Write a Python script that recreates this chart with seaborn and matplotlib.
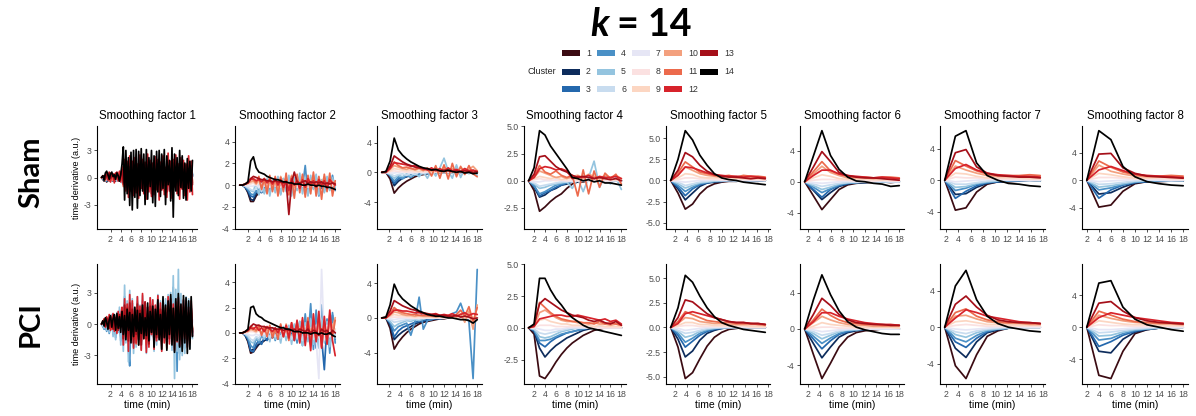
import numpy as np
import matplotlib
matplotlib.use("Agg")
import matplotlib.pyplot as plt
import seaborn as sns
import pandas as pd
from matplotlib.ticker import FormatStrFormatter
from matplotlib.patches import Rectangle

sns.set_theme(style="ticks")
plt.rcParams['font.family'] = ['Liberation Sans', 'DejaVu Sans']
plt.rcParams['axes.unicode_minus'] = False

# ---------------- data ----------------
clusters = list(range(1, 15))
cluster_colors = ["#3b0b12", "#0d2c5c", "#2468ad", "#4a90c6", "#94c4df", "#c8dcef", "#e6e6f5",
                  "#fbe1e1", "#fcd6c2", "#f3a07e", "#ec6a4c", "#d7232b", "#a50f19", "#000000"]
smoothing_factors = [1, 2, 3, 4, 5, 6, 7, 8]
conditions = ["Sham", "PCI"]
frame_minutes = 0.25   # raw sampling interval; factor k -> k * 0.25 min per point
x_breaks = [2, 4, 6, 8, 10, 12, 14, 16, 18]
y_breaks = {1: [-3, 0, 3], 2: [-4, -2, 0, 2, 4], 3: [-4, 0, 4], 4: [-2.5, 0, 2.5, 5.0],
            5: [-5.0, -2.5, 0, 2.5, 5.0], 6: [-4, 0, 4], 7: [-4, 0, 4], 8: [-4, 0, 4]}

# rows: cluster 1 ... cluster 14
sham_sf1 = [
 [0,-0.2,-0.4,-0.1,-0.5,-0.3,-0.2,-0.4,0.0,-0.3,-0.1,-0.4,0.0,-0.2,-0.3,-0.1,-0.4,0.4,-0.7,0.3,-0.6,0.6,-0.5,0.2,-0.7,0.6,-0.3,0.5,-0.6,0.2,-0.5,0.7,-0.5,0.3,-0.6,0.4,-0.4,0.6,-0.7,0.3,-0.5,0.4,-0.4,0.5,-0.6,0.2,-0.4,0.7,-0.3,0.4,-0.5,0.5,-0.7,0.4,-0.2,0.5,-0.6,0.5,-0.3,0.3,-0.6,0.4,-0.4,0.5,-0.4,0.2,-0.5,0.4,-0.2,0.6,-0.4,0.3],
 [0,-0.1,-0.3,-0.2,-0.4,-0.1,-0.3,0.0,-0.2,-0.4,0.1,-0.2,-0.3,0.0,-0.1,-0.2,-0.3,0.5,-0.6,0.2,-0.5,0.7,-0.4,0.3,-0.8,0.5,-0.2,0.6,-0.5,0.1,-0.4,0.8,-0.6,0.4,-0.5,0.5,-0.3,0.7,-0.8,0.2,-0.4,0.5,-0.3,0.4,-0.7,0.3,-0.5,0.8,-0.2,0.5,-0.6,0.4,-0.8,0.5,-0.3,0.4,-0.5,0.6,-0.4,0.2,-0.7,0.5,-0.3,0.6,-0.5,0.3,-0.4,0.5,-0.3,0.7,-0.5,0.2],
 [0,-0.2,-0.1,-0.3,0.0,-0.2,-0.4,0.1,-0.3,-0.1,0.0,-0.3,-0.2,0.1,-0.4,0.0,-0.4,0.6,-0.8,0.3,-0.7,0.9,-0.5,0.4,-1.0,0.7,-0.3,0.8,-0.7,0.2,-0.6,1.0,-0.8,0.5,-0.7,0.7,-0.4,0.9,-1.0,0.3,-0.6,0.7,-0.5,0.6,-0.9,0.4,-0.7,1.0,-0.3,0.7,-0.8,0.6,-1.0,0.7,-0.4,0.6,-0.7,0.8,-0.6,0.3,-0.9,0.7,-0.5,0.8,-0.7,0.4,-0.6,0.7,-0.5,0.9,-0.7,0.3],
 [0,-0.1,-0.3,0.0,-0.4,-0.1,0.1,-0.3,-0.2,0.1,-0.4,-0.1,-0.2,0.2,-0.3,-0.1,-0.5,0.7,-1.0,0.4,-0.9,1.1,-0.6,0.5,-1.2,0.8,-0.4,1.0,-0.9,0.3,-0.7,1.2,-1.0,0.6,-0.8,0.9,-0.5,1.1,-1.2,0.4,-0.7,0.9,-0.6,0.7,-1.1,0.5,-0.9,1.2,-0.4,0.9,-1.0,0.7,-1.2,0.9,-0.5,0.7,-0.9,1.0,-0.7,0.4,-1.1,0.9,-0.6,1.0,-0.9,0.5,-0.7,0.9,-0.6,1.1,-0.9,0.4],
 [0,-0.1,-0.2,0.1,-0.3,-0.2,0.2,-0.4,-0.1,0.2,-0.3,0.0,-0.4,0.1,-0.2,-0.3,-0.6,0.8,-1.1,0.5,-1.0,1.2,-0.7,0.6,-1.3,0.9,-0.5,1.1,-1.0,0.4,-0.8,1.3,-1.1,0.7,-0.9,1.0,-0.6,1.2,-1.3,0.5,-0.8,1.0,-0.7,0.8,-1.2,0.6,-1.0,1.3,-0.5,1.0,-2.2,0.8,-1.3,1.0,-0.6,0.8,-1.0,1.1,-0.8,0.5,-1.2,1.0,-0.7,1.1,-1.0,0.6,-0.8,1.0,-0.7,1.2,-1.0,0.5],
 [0,-0.1,0.0,-0.2,-0.1,0.1,-0.2,0.0,-0.3,0.2,-0.1,-0.2,0.1,-0.3,0.0,-0.1,-0.4,0.5,-0.7,0.3,-0.6,0.7,-0.5,0.4,-0.8,0.6,-0.3,0.7,-0.6,0.2,-0.5,0.8,-0.7,0.4,-0.6,0.6,-0.4,0.7,-0.8,0.3,-0.5,0.6,-0.4,0.5,-0.7,0.4,-0.6,0.8,-0.3,0.6,-0.7,0.5,-0.8,0.6,-0.4,0.5,-0.6,0.7,-0.5,0.3,-0.7,0.6,-0.4,0.7,-0.6,0.4,-0.5,0.6,-0.4,0.7,-0.6,0.3],
 [0,0.0,-0.1,0.0,-0.1,0.1,0.0,-0.1,0.1,0.0,-0.1,0.0,0.1,-0.1,0.0,0.1,-0.3,0.3,-0.4,0.2,-0.5,0.4,-0.3,0.3,-0.5,0.4,-0.2,0.5,-0.4,0.2,-0.3,0.4,-0.5,0.3,-0.4,0.4,-0.3,0.5,-0.4,0.2,-0.3,0.4,-0.5,0.3,-0.4,0.3,-0.3,0.5,-0.2,0.4,-0.5,0.3,-0.4,0.4,-0.3,0.3,-0.4,0.5,-0.3,0.2,-0.5,0.4,-0.3,0.4,-0.4,0.3,-0.3,0.4,-0.2,0.5,-0.4,0.2],
 [0,0.0,0.1,0.1,0.0,0.1,-0.1,0.1,0.0,0.2,-0.1,0.1,0.0,0.1,-0.1,0.0,0.3,-0.3,0.4,-0.2,0.5,-0.4,0.3,-0.3,0.5,-0.4,0.2,-0.5,0.4,-0.2,0.3,-0.4,0.5,-0.3,0.4,-0.4,0.3,-0.5,0.4,-0.2,0.3,-0.4,0.5,-0.3,0.4,-0.3,0.3,-0.5,0.2,-0.4,0.5,-0.3,0.4,-0.4,0.3,-0.3,0.4,-0.5,0.3,-0.2,0.5,-0.4,0.3,-0.4,0.4,-0.3,0.3,-0.4,0.2,-0.5,0.4,-0.2],
 [0,0.1,0.0,0.2,0.1,-0.1,0.2,0.0,0.3,-0.2,0.1,0.2,-0.1,0.3,0.0,0.1,0.4,-0.5,0.7,-0.3,0.6,-0.7,0.5,-0.4,0.8,-0.6,0.3,-0.7,0.6,-0.2,0.5,-0.8,0.7,-0.4,0.6,-0.6,0.4,-0.7,0.8,-0.3,0.5,-0.6,0.4,-0.5,0.7,-0.4,0.6,-0.8,0.3,-0.6,0.7,-0.5,0.8,-0.6,0.4,-0.5,0.6,-0.7,0.5,-0.3,0.7,-0.6,0.4,-0.7,0.6,-0.4,0.5,-0.6,0.4,-0.7,0.6,-0.3],
 [0,0.1,0.2,0.0,0.3,-0.2,0.4,0.1,-0.3,0.3,0.2,-0.1,0.4,0.0,0.2,-0.2,0.6,-0.8,1.0,-0.5,0.9,-1.1,0.7,-0.6,1.2,-0.9,0.5,-1.0,1.1,-0.4,0.8,-1.2,0.9,-0.7,1.0,-0.9,0.6,-1.1,1.2,-0.5,0.8,-1.0,0.7,-0.8,1.1,-0.6,0.9,-1.2,0.5,-0.9,1.0,-0.7,1.2,-1.0,0.6,-0.8,0.9,-1.1,0.8,-0.5,1.0,-0.9,0.7,-1.0,1.1,-0.6,0.8,-0.9,0.6,-1.0,0.9,-0.4],
 [0,0.2,0.1,-0.3,0.4,0.2,-0.4,0.5,0.1,-0.3,0.4,0.2,-0.2,0.5,0.1,-0.3,0.8,-1.0,1.2,-0.6,1.4,-1.2,0.9,-1.5,1.1,-0.7,1.5,-1.0,0.6,-1.3,1.3,-0.9,1.0,-1.4,1.4,-0.5,0.9,-1.1,1.5,-1.3,0.7,-1.0,1.2,-1.4,1.0,-0.8,1.3,-1.2,0.8,-1.5,1.1,-0.6,1.4,-1.0,0.9,-1.3,1.2,-0.7,1.0,-1.1,1.5,-0.9,0.6,-1.2,1.1,-0.8,1.3,-1.0,0.7,-1.3,1.0,-0.6],
 [0,0.1,-0.2,0.3,0.5,-0.3,0.6,-0.5,0.4,0.2,-0.6,0.5,0.3,-0.4,0.7,-0.5,1.2,-0.8,2.0,-1.5,1.8,-2.2,2.4,-1.0,1.6,-2.0,2.2,-1.4,1.0,-2.3,2.5,-1.2,2.0,-1.8,1.4,-2.4,2.6,-1.6,1.9,-2.1,1.2,-1.9,2.3,-1.1,2.0,-2.5,1.7,-1.3,2.4,-1.9,1.1,-2.2,2.7,-1.5,1.8,-2.3,2.0,-1.0,2.5,-1.8,1.5,-2.4,2.2,-1.2,1.9,-2.0,1.3,-2.5,2.4,-1.6,1.8,-1.9],
 [0,0.1,0.2,-0.2,0.4,0.3,0.5,-0.1,0.3,0.4,-0.2,0.3,0.6,0.1,-0.3,0.4,0.9,-0.6,1.4,-1.1,1.6,-0.8,1.2,-1.5,1.8,-0.9,1.1,-1.7,1.5,-0.6,1.3,-1.2,0.8,-1.6,1.7,-1.0,1.4,-0.7,1.0,-1.8,1.6,-1.1,0.9,-1.3,1.5,-0.8,1.2,-1.4,1.7,-0.9,1.1,-1.6,1.3,-0.5,1.0,-1.2,1.6,-1.0,0.8,-1.5,1.4,-0.9,1.2,-1.3,0.9,-1.1,1.5,-0.7,1.0,-1.2,1.3,-0.8],
 [0,0.2,-0.3,0.5,0.7,0.3,-0.2,0.4,0.6,0.1,0.3,-0.2,0.5,0.2,-0.4,0.3,1.5,3.4,-2.5,3.0,-1.8,2.2,-3.1,2.8,-3.6,3.0,-2.2,3.1,-3.4,2.9,-2.0,3.2,-1.5,2.6,-3.0,3.1,-2.4,2.2,-1.0,3.0,-2.8,2.4,-3.2,2.9,-1.6,3.0,-2.1,2.6,-1.2,3.1,-3.0,2.4,-0.8,1.9,-2.6,3.3,-4.4,2.6,-1.5,2.2,-2.0,3.0,-1.1,2.4,-2.3,1.6,-2.5,2.1,-1.2,1.8,-1.5,1.9],
]
pci_sf1 = [
 [0,-0.2,-0.3,-0.1,-0.4,0.1,-0.5,-0.2,0.2,-0.5,0.1,-0.6,0.3,-0.3,0.4,-0.7,0.4,-0.9,1.1,-0.6,0.8,-1.1,0.9,-0.5,0.9,-1.0,0.5,-0.8,0.9,-0.5,0.7,-0.9,1.0,-0.5,0.8,-1.1,0.5,-0.7,0.9,-0.4,0.8,-1.0,0.6,-0.8,1.1,-0.6,0.8,-1.0,0.7,-0.6,0.9,-0.8,1.1,-0.7,1.2,-1.1,1.2,-1.2,1.1,-1.2,1.2,-1.3,1.0,-1.1,0.8,-1.0,0.9,-0.8,0.9,-0.8,0.7,-0.5],
 [0,-0.1,-0.3,0.0,-0.5,0.2,-0.6,-0.1,0.3,-0.6,0.2,-0.8,0.5,-0.4,0.6,-0.9,0.6,-1.2,1.5,-0.8,1.0,-1.4,1.2,-0.6,1.2,-1.3,0.6,-1.0,1.2,-0.7,0.9,-1.2,1.3,-0.6,1.0,-1.4,0.7,-0.9,1.2,-0.5,1.1,-1.3,0.8,-1.0,1.4,-0.8,1.0,-1.3,0.9,-0.8,1.2,-1.1,1.4,-0.9,1.5,-1.4,1.6,-1.5,1.4,-1.6,1.5,-1.7,1.3,-1.4,1.0,-1.3,1.2,-1.0,1.2,-1.1,0.9,-0.7],
 [0,-0.2,-0.4,0.1,-0.6,0.3,-0.7,-0.2,0.5,-0.8,0.4,-1.0,0.7,-0.5,0.9,-1.2,0.9,-1.6,2.0,-1.1,1.4,-1.9,1.7,-0.8,1.6,-1.7,0.9,-1.4,1.6,-0.9,1.2,-1.6,1.7,-0.8,1.3,-1.8,1.0,-1.2,1.6,-0.7,1.5,-1.7,1.1,-1.3,1.8,-1.0,1.4,-1.7,1.2,-1.0,1.6,-1.4,1.8,-1.1,2.0,-1.8,2.2,-2.0,1.9,-2.2,2.1,-2.3,1.7,-1.9,1.4,-1.8,1.7,-1.3,1.6,-1.5,1.2,-0.9],
 [0,-0.2,-0.5,0.2,-0.7,0.4,-0.9,-0.2,0.7,-1.0,0.5,-1.3,0.9,-0.6,1.2,-1.6,1.1,-2.0,2.6,-1.4,1.8,-2.4,-4.0,1.0,2.0,-2.2,1.2,-1.8,2.1,-1.1,1.5,-2.0,2.2,-1.0,1.6,-2.3,1.3,-1.5,2.0,-0.9,1.9,-2.1,1.4,-1.6,2.3,-1.2,1.8,-2.1,1.5,-1.3,2.0,-1.7,2.3,-1.4,2.6,-2.2,3.5,-2.6,2.4,-4.5,2.7,-2.8,2.2,-2.4,1.8,-2.3,2.1,-1.6,2.0,-1.9,1.5,-1.1],
 [0,-0.2,-0.4,0.3,-0.6,0.5,-0.8,-0.3,0.9,-1.2,0.6,-1.5,1.1,-0.8,1.6,-2.0,1.4,-2.6,3.7,-1.8,2.2,-3.6,3.2,-1.2,2.4,-2.8,1.5,-2.2,2.6,-1.4,1.8,-2.4,2.7,-1.3,2.0,-2.8,1.6,-1.9,2.5,-1.1,2.3,-2.6,1.7,-2.0,2.8,-1.5,2.2,-2.5,1.9,-1.6,2.4,-2.0,2.8,-1.7,3.0,-2.5,4.6,-5.2,3.3,-2.6,5.2,-3.4,2.9,-3.0,2.2,-2.8,2.6,-1.9,2.4,-2.3,1.8,-1.4],
 [0,-0.1,-0.2,0.1,-0.3,0.0,0.2,-0.3,0.1,-0.2,0.3,-0.1,-0.3,0.2,-0.2,0.1,-0.8,1.0,-1.3,0.6,-1.1,1.4,-1.5,0.7,-1.2,1.1,-0.6,1.5,-1.3,0.8,-1.0,1.2,-1.4,0.6,-1.1,1.5,-0.9,1.2,-1.5,0.4,-1.2,1.4,-0.8,1.0,-1.5,1.0,-1.1,1.4,-1.2,0.8,-1.3,1.2,-0.9,0.6,-1.4,1.3,-1.0,1.0,-1.2,0.6,-1.5,1.2,-0.8,1.0,-1.3,0.8,-1.0,1.2,-0.7,1.0,-1.2,0.4],
 [0,0.0,-0.1,0.1,-0.2,0.0,0.1,-0.2,0.0,-0.1,0.2,-0.1,-0.2,0.1,-0.1,0.1,-0.4,0.5,-0.7,0.3,-0.6,0.7,-0.8,0.4,-0.6,0.6,-0.3,0.8,-0.7,0.4,-0.5,0.6,-0.7,0.3,-0.6,0.8,-0.5,0.6,-0.8,0.2,-0.6,0.7,-0.4,0.5,-0.8,0.5,-0.6,0.7,-0.6,0.4,-0.7,0.6,-0.5,0.3,-0.7,0.7,-0.5,0.5,-0.6,0.3,-0.8,0.6,-0.4,0.5,-0.7,0.4,-0.5,0.6,-0.3,0.5,-0.6,0.2],
 [0,0.0,0.1,-0.1,0.2,0.0,-0.1,0.2,0.0,0.1,-0.2,0.1,0.2,-0.1,0.1,-0.1,0.3,-0.5,0.6,-0.3,0.5,-0.6,0.7,-0.3,0.5,-0.5,0.3,-0.7,0.6,-0.4,0.4,-0.5,0.6,-0.3,0.5,-0.7,0.4,-0.5,0.7,-0.2,0.5,-0.6,0.3,-0.5,0.7,-0.5,0.5,-0.6,0.5,-0.4,0.6,-0.5,0.4,-0.3,0.6,-0.6,0.5,-0.5,0.5,-0.3,0.7,-0.5,0.3,-0.5,0.6,-0.4,0.5,-0.5,0.3,-0.5,0.5,-0.2],
 [0,0.1,0.2,-0.1,0.3,0.0,-0.2,0.3,-0.1,0.2,-0.3,0.1,0.3,-0.1,0.2,-0.2,0.5,-0.7,0.9,-0.4,0.7,-0.9,1.0,-0.5,0.8,-0.7,0.5,-1.0,0.9,-0.6,0.6,-0.8,0.9,-0.5,0.7,-1.0,0.6,-0.8,1.0,-0.3,0.8,-0.9,0.5,-0.7,1.0,-0.7,0.7,-0.9,0.8,-0.6,0.9,-0.8,0.6,-0.5,0.9,-0.9,0.7,-0.7,0.8,-0.5,1.0,-0.8,0.5,-0.7,0.9,-0.6,0.7,-0.8,0.5,-0.7,0.8,-0.3],
 [0,0.1,0.3,-0.2,0.4,0.1,-0.3,0.5,-0.1,0.3,-0.4,0.2,0.5,-0.2,0.3,-0.3,0.8,-1.0,1.3,-0.6,1.0,-1.4,1.5,-0.8,1.2,-1.1,0.7,-1.5,1.3,-0.9,0.9,-1.2,1.4,-0.7,1.1,-1.5,0.9,-1.2,1.5,-0.5,1.2,-1.4,0.8,-1.0,1.5,-1.1,1.0,-1.4,1.2,-0.9,1.3,-1.2,0.9,-0.8,1.4,-1.3,1.1,-1.0,1.2,-0.7,1.5,-1.2,0.8,-1.1,1.3,-0.9,1.0,-1.2,0.8,-1.1,1.2,-0.5],
 [0,0.3,-0.1,0.5,0.2,-0.4,0.6,0.0,-0.5,0.7,0.1,-0.3,0.6,-0.5,0.4,0.2,1.0,-1.3,1.6,-0.8,1.2,-1.7,1.9,-1.0,1.5,-1.4,0.9,-1.9,1.7,-1.2,1.1,-1.6,1.8,-0.9,1.4,-2.0,1.2,-1.5,1.9,-0.7,1.6,-1.8,1.0,-1.2,2.0,-1.4,1.3,-1.9,1.5,-1.1,1.7,-1.6,1.2,-1.0,1.8,-1.7,1.4,-1.3,1.6,-0.9,1.9,-1.5,1.1,-1.4,1.7,-1.2,1.3,-1.6,1.0,-1.4,1.5,-0.6],
 [0,0.1,0.5,-0.3,0.7,-0.2,0.9,-0.6,0.4,1.0,-0.7,0.6,-0.9,1.2,-0.4,0.8,1.6,-2.0,2.4,-1.2,1.9,-2.6,2.8,-1.5,2.2,-2.3,1.4,-1.8,2.6,-2.0,1.7,-2.5,2.9,-1.4,2.1,-2.7,1.6,-2.2,2.5,-1.0,2.3,-2.4,1.8,-1.6,2.7,-1.3,2.0,-2.6,2.2,-1.8,1.5,-2.3,2.6,-1.9,2.4,-1.2,1.9,-2.5,2.1,-1.7,2.5,-2.1,1.8,-1.9,2.3,-1.4,2.0,-2.2,1.6,-1.8,2.2,-1.1],
 [0,0.2,0.4,-0.2,0.6,0.3,-0.4,0.7,0.1,-0.5,0.8,-0.2,0.6,-0.6,0.9,-0.3,1.2,-1.4,1.8,-0.9,1.5,-1.6,2.0,-1.2,1.4,-1.8,1.1,-1.0,1.9,-1.5,1.3,-2.0,1.6,-1.1,2.1,-1.4,1.0,-1.9,1.7,-0.8,1.5,-1.6,1.2,-1.3,1.8,-1.0,1.4,-1.7,2.0,-1.2,1.1,-1.8,1.6,-1.4,1.9,-0.9,1.3,-1.6,1.5,-1.1,1.7,-1.5,1.2,-1.3,1.6,-1.0,1.4,-1.5,1.1,-1.2,1.5,-0.8],
 [0,0.3,-0.2,0.6,0.2,-0.5,0.4,0.8,-0.3,0.5,0.9,-0.6,1.0,-0.4,0.7,-0.8,1.2,-1.0,0.8,-1.5,1.4,-0.6,1.1,-1.8,0.9,-1.2,1.6,-0.7,1.3,-2.0,1.0,-0.9,1.8,-1.4,0.6,-1.1,2.0,-1.6,1.2,-0.8,1.7,-2.2,1.4,-1.0,2.3,-1.5,0.9,-2.4,2.6,-1.3,1.8,-2.5,2.2,-1.0,2.8,-2.0,1.5,-2.7,2.4,-1.6,2.9,-2.2,1.9,-2.6,2.7,-1.8,2.5,-2.8,2.2,-2.4,2.6,-1.2],
]

sham_sf2 = [
 [0,0,-0.2,-0.7,-1.5,-1.5,-1.0,-0.7,-0.6,-0.5,-0.4,-0.3,-0.3,-0.2,-0.2,-0.1,-0.1,-0.1,0.0,-0.1,0.0,0.0,0.0,0.0,0.0,0.0,0.0,0.0,0.0,0.0,0.0,0.0,0.0,0.0,0.0,0.0],
 [0,0,-0.2,-0.6,-1.3,-1.4,-0.8,-0.6,-0.5,-0.4,-0.3,-0.3,-0.2,-0.2,-0.1,-0.2,-0.1,0.0,-0.1,0.0,-0.1,0.0,0.0,0.1,0.0,0.0,-0.1,0.0,0.0,0.0,0.0,0.0,0.0,0.0,0.0,0.0],
 [0,0,-0.2,-0.5,-1.0,-1.1,-0.6,-0.4,-0.7,-0.2,-0.5,0.3,-0.4,0.2,-0.3,0.4,-0.2,0.3,-0.4,0.2,-0.3,0.4,-0.2,0.3,-0.3,0.2,-0.4,0.3,-0.2,0.1,-0.3,0.2,-0.1,0.2,-0.2,0.0],
 [0,0,-0.1,-0.4,-0.8,-0.9,-0.5,-0.8,-0.3,-0.7,0.2,-0.6,0.4,-0.5,0.3,-0.8,0.6,-0.4,0.2,-0.6,0.5,-0.3,0.8,-0.2,1.8,-0.9,0.5,-0.3,0.7,-1.0,0.4,-0.6,0.6,-0.4,0.9,-0.5],
 [0,0,-0.1,-0.3,-0.5,-0.6,0.3,-0.9,0.5,-0.8,0.6,-1.0,0.4,-0.7,0.8,-0.9,0.6,-0.6,0.9,-1.0,0.7,-0.5,1.1,-0.8,0.6,-1.0,0.9,-0.4,1.0,-0.9,0.5,-0.7,0.8,-0.5,0.7,-0.2],
 [0,0,-0.1,-0.2,-0.4,-0.5,-0.3,0.2,-0.6,0.3,-0.5,0.4,-0.3,0.2,-0.4,0.3,-0.2,0.4,-0.3,0.2,-0.4,0.3,-0.2,0.4,-0.3,0.2,-0.2,0.3,-0.3,0.2,-0.1,0.3,-0.2,0.1,-0.1,0.0],
 [0,0,0.0,-0.1,-0.1,-0.1,0.1,-0.2,0.1,-0.1,0.2,-0.2,0.1,-0.1,0.2,-0.2,0.1,-0.1,0.2,-0.1,0.1,-0.2,0.2,-0.1,0.1,-0.2,0.1,-0.1,0.2,-0.2,0.1,-0.1,0.1,-0.1,0.1,0.0],
 [0,0,0.0,0.1,0.1,0.2,0.0,0.2,-0.1,0.2,0.0,0.1,-0.1,0.2,0.0,0.2,-0.1,0.1,0.0,0.2,-0.1,0.2,0.0,0.1,-0.1,0.2,0.0,0.1,-0.1,0.2,0.0,0.1,0.0,0.1,0.0,0.0],
 [0,0,0.1,0.1,0.2,0.3,0.1,0.3,-0.1,0.3,-0.2,0.4,0.0,0.3,-0.3,0.4,0.1,0.3,-0.2,0.4,-0.1,0.3,0.0,0.4,-0.2,0.3,0.1,0.4,-0.2,0.3,0.0,0.4,-0.1,0.3,0.1,0.1],
 [0,0,0.1,0.2,0.3,0.4,0.1,0.5,-0.2,0.6,-0.4,0.5,0.0,0.7,-0.5,0.8,0.1,0.6,-0.3,0.9,-0.2,0.7,0.0,0.8,-0.4,0.6,0.2,0.9,-0.3,0.7,0.1,0.8,-0.2,0.6,0.3,0.2],
 [0,0,0.1,0.3,0.6,0.5,0.2,0.8,-0.4,0.6,-0.8,0.9,-0.6,0.8,-1.0,0.7,-0.6,1.1,-0.9,0.8,-1.2,1.0,-0.7,1.0,-1.1,0.9,-0.8,1.2,-1.0,0.8,-1.3,1.0,-0.6,1.1,-1.0,0.4],
 [0,0,0.1,0.2,0.5,0.6,0.4,0.5,0.3,0.6,0.2,0.5,0.1,0.6,0.0,0.5,-0.2,0.4,-0.5,0.6,0.0,0.4,-0.3,0.5,-0.2,0.6,0.1,0.4,-0.2,0.5,0.0,0.4,-0.3,0.5,0.2,0.0],
 [0,0,0.1,0.2,0.6,0.8,0.7,0.6,0.5,0.5,0.4,0.4,0.3,0.4,0.3,0.3,0.2,0.3,-2.7,0.2,1.2,0.3,0.2,0.3,0.4,0.2,0.3,0.2,0.3,0.2,0.3,0.1,0.2,0.1,0.2,0.1],
 [0,0,0.1,0.3,2.2,2.6,1.6,1.2,1.1,1.0,0.8,0.7,0.6,0.5,0.5,0.4,0.3,0.3,0.2,0.2,0.1,0.1,0.1,0.0,0.0,0.1,0.0,0.0,-0.1,0.0,-0.1,-0.1,-0.2,-0.2,-0.3,-0.4],
]
pci_sf2 = [
 [0,0,-0.2,-0.7,-1.6,-1.5,-1.2,-0.9,-0.8,-0.6,-0.5,-0.4,-0.3,-0.3,-0.2,-0.2,-0.1,-0.1,-0.1,0,0,0,0,0,0,0,0,0,0,0,0,0,0,0,0,0],
 [0,0,-0.2,-0.6,-1.4,-1.3,-1.1,-0.9,-0.7,-0.6,-0.5,-0.4,-0.3,-0.3,-0.2,-0.2,-0.1,-0.1,-0.1,0,-0.1,0,0,0,0,0,0,0,0,0,0,0,0,0,0,0],
 [0,0,-0.2,-0.5,-1.4,-1.5,-0.9,-0.6,-0.9,-0.3,-0.6,0.1,-0.4,0.2,-0.5,0.3,-0.2,0.4,-0.4,0.2,-0.6,0.5,-0.3,0.8,-0.7,1.0,-0.5,0.6,-1.2,0.9,-0.4,-2.9,0.8,-1.0,1.4,-0.5],
 [0,0,-0.1,-0.4,-1.0,-1.2,-0.4,-0.8,-0.2,-0.5,0.1,-0.4,0.3,-0.6,0.2,-0.3,0.4,-0.5,0.1,-0.4,0.6,-0.8,0.9,-1.0,1.5,-0.6,2.3,-1.3,1.8,-0.9,2.2,-0.4,1.1,-1.6,1.6,-0.8],
 [0,0,-0.1,-0.3,-0.7,-0.8,-0.4,-0.6,0.1,-0.5,0.3,-0.7,0.4,-0.5,0.2,-0.8,0.5,-0.6,0.6,-0.9,0.7,-0.5,0.9,-1.0,0.8,-0.7,1.1,-0.9,0.6,-1.2,1.0,-0.8,0.9,-1.1,0.7,-0.4],
 [0,0,-0.1,-0.2,-0.5,-0.6,-0.3,-0.4,-0.1,-0.3,0.1,-0.4,0.2,-0.3,0.1,-0.4,0.3,-0.2,0.2,-0.5,0.3,-0.4,0.4,-0.6,0.5,-0.3,0.4,-0.5,0.6,-0.4,0.3,-0.6,0.5,-0.3,0.4,-0.2],
 [0,0,0,-0.1,-0.2,-0.2,-0.1,-0.2,0,-0.1,0.1,0,-0.1,0.1,0,0.2,-0.2,0.1,0,0.3,-0.3,0.2,0,0.4,-0.2,0.5,-0.4,0.8,-0.6,-3.6,5.0,-0.5,0.6,-0.3,0.3,0.2],
 [0,0,0.0,0.1,0.1,0.1,0.0,0.2,-0.1,0.1,0.0,0.2,-0.1,0.2,0.0,0.2,-0.1,0.2,0.0,0.2,-0.2,0.2,0.0,0.3,-0.2,0.2,0.0,0.2,-0.2,0.3,-0.1,0.2,-0.1,0.2,0.0,0.1],
 [0,0,0.1,0.1,0.2,0.2,0.1,0.3,-0.1,0.2,0.0,0.3,-0.2,0.3,0.1,0.4,-0.2,0.3,-0.1,0.4,-0.3,0.4,0.0,0.5,-0.3,0.4,0.1,0.3,-0.4,0.5,-0.1,0.4,-0.2,0.5,0.1,0.3],
 [0,0,0.1,0.1,0.3,0.2,0.1,0.4,-0.1,0.3,0.2,0.5,-0.2,0.4,0.1,0.6,-0.3,0.7,0.0,0.5,-0.5,0.8,0.2,0.6,-0.4,0.9,0.1,0.5,-0.6,1.0,0.0,0.7,-0.3,1.1,0.4,1.2],
 [0,0,0.1,0.2,0.5,0.4,0.2,0.6,-0.2,0.5,-0.3,0.6,-0.4,0.3,-0.5,0.7,-0.3,0.5,-0.6,0.8,-0.4,0.9,-0.7,1.0,-0.5,1.2,-0.9,0.8,-0.6,1.3,-1.1,0.7,-0.8,1.4,-0.3,1.0],
 [0,0,0.1,0.2,0.4,0.3,0.5,0.2,0.4,0.1,0.5,0.3,0.1,0.4,0.0,0.5,-0.3,0.6,-0.4,0.8,-0.6,1.0,-0.8,1.2,-1.0,0.9,-1.4,1.5,-0.7,1.7,-1.2,1.3,-0.9,1.8,-0.6,-1.8],
 [0,0,0.1,0.2,0.5,0.7,0.6,0.6,0.5,0.5,0.4,0.4,0.4,0.3,0.3,0.3,0.2,0.3,0.2,0.2,0.3,0.1,0.3,0.2,0.1,0.3,0.0,0.2,0.1,-0.2,0.3,0.1,0.2,-0.1,0.2,0.0],
 [0,0,0.1,0.3,2.0,2.1,1.5,1.3,1.2,1.0,0.9,0.8,0.7,0.6,0.5,0.4,0.4,0.3,0.3,0.2,0.1,0.1,0.1,0.0,0.0,0.0,-0.1,0.0,0.0,-0.1,0.0,-0.1,-0.1,0.0,-0.2,-0.3],
]

sham_sf3 = [
 [0,0,-0.9,-2.8,-2.1,-1.6,-1.2,-0.9,-0.6,-0.4,-0.3,-0.2,-0.1,-0.1,0,0,0,0,0,0,0,0,0,0],
 [0,0,-0.5,-1.8,-1.2,-0.8,-0.6,-0.4,-0.3,-0.2,-0.1,-0.1,0,0,0,0,0,0,0,0,0,0,0,0],
 [0,0,-0.4,-1.5,-0.9,-0.7,-0.5,-0.4,-0.3,-0.2,-0.1,-0.1,0,0,0,0,0,0,0,0,0,0,0,0],
 [0,0,-0.4,-1.2,-0.6,-0.9,-0.4,-0.7,-0.3,-0.4,-0.1,-0.2,0,-0.1,0,0,0,0,0,0,0,0,0,0],
 [0,0,-0.3,-0.8,-0.4,-0.6,-0.2,-0.5,-0.1,-0.6,0.1,-0.8,0.3,-0.5,0.6,1.9,0.2,-0.8,1.0,-0.7,0.5,-0.2,0.3,-0.4],
 [0,0,-0.2,-0.5,-0.3,-0.2,-0.4,-0.1,-0.3,0,-0.2,0,0,0.1,0,0,0,0,0,0,0,0,0,0],
 [0,0,-0.1,-0.1,0,0.1,0,-0.1,0,0.1,0,0,-0.1,0,0.1,0,0,0,0.1,0,0,0,0,0],
 [0,0,0.1,0.2,0.1,0.1,0.0,0.1,0.0,0.1,0.0,0.1,0.0,0.1,0.0,0.0,0.1,0.0,0.0,0.1,0.0,0.0,0.0,0.0],
 [0,0,0.2,0.5,0.4,0.3,0.2,0.3,0.2,0.1,0.3,0.1,0.2,0.0,0.3,0.1,0.2,0.0,0.2,0.1,0.2,0.1,0.1,0.0],
 [0,0,0.4,0.9,0.7,0.5,0.4,0.6,0.3,0.5,0.2,0.6,0.1,0.7,0.0,0.8,0.2,0.5,0.1,0.6,0.3,0.4,0.8,0.2],
 [0,0,0.6,1.4,0.9,0.6,0.7,0.5,0.4,0.6,0.3,0.5,-0.5,0.9,-0.8,1.0,-0.9,1.2,-0.6,0.8,-0.3,0.9,-0.2,-0.6],
 [0,0,0.5,1.3,1.2,1.1,1.0,0.8,0.9,0.7,0.5,0.3,0.6,0.2,0.5,0.1,0.6,0.2,0.4,0.1,0.5,0.2,0.3,0.1],
 [0,0.1,0.8,2.2,1.8,1.4,1.1,0.9,0.7,0.6,0.5,0.4,0.3,0.3,0.2,0.3,0.2,0.1,0.2,0.1,0.2,0.1,0.0,0.1],
 [0,0.1,1.5,4.6,3.0,2.3,1.8,1.4,1.1,0.8,0.6,0.5,0.3,0.4,0.2,0.1,0.3,0.1,0.0,0.1,-0.1,0.0,-0.2,-0.1],
]
pci_sf3 = [
 [0,0,-1.2,-3.6,-2.8,-2.2,-1.7,-1.3,-1.0,-0.7,-0.5,-0.4,-0.3,-0.2,-0.1,-0.1,0,0,0,0,0,0,0,0],
 [0,0,-0.8,-2.5,-2.0,-1.6,-1.3,-1.0,-0.7,-0.5,-0.4,-0.3,-0.2,-0.1,-0.1,0,0,0,0,0,0,0,0,0],
 [0,0,-0.6,-2.2,-1.5,-1.1,-0.9,-0.7,-0.5,-0.4,-0.3,-0.2,-0.1,-0.1,0,0,0,0,0,0,0,0,0,0],
 [0,0,-0.5,-1.5,-1.0,-0.8,-0.6,-2.0,-0.4,2.4,-1.3,-0.3,-0.2,0,-0.1,0,0.2,0.5,0.7,1.7,0.3,-0.4,-7.0,5.6],
 [0,0,-0.4,-1.0,-0.7,-0.5,-0.3,-0.4,-0.2,-0.3,-0.1,0,0,0.1,0,0,0.1,0,0,0,0,0,0,0],
 [0,0,-0.2,-0.5,-0.4,-0.3,-0.2,-0.2,-0.1,-0.1,0,0,0,0,0,0,0,0,0,0,0,0,0,0],
 [0,0,-0.1,-0.2,-0.1,-0.1,0,0,0,0,0,0,0,0,0,0,0,0,0,0,0,0,0,0],
 [0,0,0.1,0.1,0.1,0.1,0.1,0,0,0,0,0,0,0,0,0,0,0,0,0,0,0,0,0],
 [0,0,0.2,0.4,0.3,0.3,0.2,0.2,0.1,0.2,0.1,0.1,0.1,0.1,0.1,0.1,0.1,0.1,0.1,0.2,0.0,0.3,-0.2,0.4],
 [0,0,0.3,0.7,0.6,0.4,0.3,0.3,0.2,0.3,0.2,0.2,0.2,0.1,0.2,0.1,0.2,0.3,0.1,0.5,-0.5,0.8,-1.3,1.5],
 [0,0,0.5,1.2,0.8,0.6,0.5,0.4,0.4,0.3,0.3,0.3,0.2,0.3,0.2,0.2,0.3,0.1,0.4,0.9,0.2,1.3,-0.4,1.2],
 [0,0,0.4,0.9,0.9,0.8,0.8,0.7,0.6,0.6,0.5,0.4,0.4,0.5,0.3,0.4,0.3,0.5,0.2,0.4,0.6,0.3,0.5,0.4],
 [0,0.1,0.8,2.0,1.7,1.4,1.2,1.0,0.9,0.7,0.6,0.5,0.4,0.4,0.3,0.3,0.2,0.2,0.3,0.1,0.2,0.1,-0.1,0.0],
 [0,0.1,1.5,3.9,2.8,2.2,1.8,1.4,1.1,0.8,0.6,0.4,0.3,0.2,0.2,0.1,0.0,0.0,-0.1,-0.2,-0.2,-0.3,-0.6,-0.2],
]

sham_sf4 = [
 [0,-0.9,-2.8,-2.4,-1.9,-1.5,-1.2,-0.7,-0.3,-0.1,-0.1,0,0,0,0,0,0,0],
 [0,-0.6,-1.5,-1.3,-0.9,-0.7,-0.4,-0.3,-0.1,-0.1,0,0,0,0,0,0,0,0],
 [0,-0.4,-1.4,-1.1,-0.9,-0.6,-0.4,-0.2,-0.1,0,0,0,0,0,0,0,0,0],
 [0,-0.5,-1.2,-1.0,-0.7,-0.4,-0.3,-0.2,-0.1,0,0,0,0,0,0,0,0,0],
 [0,-0.3,-0.7,-0.6,-0.4,-0.3,-0.2,-0.1,-0.7,0.2,-1.0,0.3,1.8,-0.6,0.4,-0.3,0.3,-0.8],
 [0,-0.2,-0.5,-0.4,-0.3,-0.2,-0.1,-0.1,0,0,0,0,0.1,0,0,0,0,0],
 [0,-0.1,-0.1,0,0,0.1,0,0,-0.1,0,0.1,0,0,0,0,0,0,0],
 [0,0.1,0.2,0.1,0.1,0.0,0.1,0.0,0.1,0.0,0.1,0.0,0.0,0.1,0.0,0.0,0.1,0.0],
 [0,0.2,0.4,0.3,0.2,0.3,0.1,0.2,0.2,0.1,0.2,0.1,0.2,0.1,0.2,0.1,0.1,0.1],
 [0,0.3,0.9,0.7,0.5,0.3,0.4,0.2,0.4,0.5,0.3,0.6,0.4,0.2,0.5,0.3,0.5,0.2],
 [0,0.4,1.4,0.8,0.6,0.9,0.5,0.3,0.5,-1.4,1.0,-1.2,0.9,-0.6,0.7,0.2,0.6,-0.3],
 [0,0.3,1.1,1.3,1.2,1.0,1.1,0.9,0.2,0.4,0.3,0.5,0.2,0.4,0.3,0.3,0.4,0.2],
 [0,0.6,2.2,2.3,1.8,1.3,1.0,0.8,0.5,0.3,0.4,0.3,0.2,0.3,0.2,0.1,0.2,0.0],
 [0,1.2,4.6,4.2,3.2,2.5,1.8,1.1,0.3,0.2,0.0,0.1,-0.1,0.0,-0.2,-0.2,-0.3,-0.4],
]
pci_sf4 = [
 [0,-0.5,-3.8,-4.0,-3.4,-2.7,-2.1,-1.6,-1.2,-0.9,-0.6,-0.4,-0.2,-0.1,0,0,0,0],
 [0,-0.3,-1.6,-2.3,-1.8,-1.4,-1.1,-0.8,-0.6,-0.4,-0.2,-0.1,0,0,0,0,0,0],
 [0,-0.2,-1.2,-1.5,-1.1,-0.8,-0.6,-0.4,-0.3,-0.2,-0.1,0,0,0,0,0,0,0],
 [0,-0.2,-1.0,-1.0,-0.9,-0.7,-0.5,-0.4,-0.3,-0.2,-0.1,0,0,0,0,0,0,0],
 [0,-0.1,-0.7,-0.8,-0.7,-0.5,-0.3,-0.2,-0.1,0,0,0,0,0,0,0,0,0],
 [0,-0.1,-0.4,-0.5,-0.4,-0.3,-0.2,-0.1,0,0,0,0,0,0,0,0,0,0],
 [0,0,-0.1,-0.2,-0.2,-0.1,-0.1,0,0,0,0,0,0,0,0,0,0,0],
 [0,0,0.2,0.2,0.2,0.1,0.1,0.1,0.1,0.1,0.1,0,0,0,0,0,0,0],
 [0,0.1,0.6,0.7,0.5,0.4,0.3,0.3,0.2,0.2,0.2,0.2,0.1,0.2,0.1,0.1,0.1,0.1],
 [0,0.1,1.2,1.4,1.1,0.8,0.6,0.5,0.5,0.4,0.4,0.3,0.4,0.3,0.3,0.2,0.3,0.2],
 [0,0.2,2.0,1.6,1.2,0.9,0.7,0.6,0.5,0.5,0.4,0.4,0.3,0.5,0.3,0.4,0.3,0.2],
 [0,0.1,0.7,0.8,0.9,1.0,1.0,0.9,0.9,1.0,0.9,0.8,0.7,0.6,0.7,0.5,0.6,0.3],
 [0,0.2,1.9,2.3,2.0,1.7,1.4,1.2,1.0,0.9,0.8,0.6,0.5,0.6,0.4,0.3,0.5,0.2],
 [0,0.3,3.9,3.9,3.0,2.3,1.8,1.2,0.8,0.5,0.2,0.0,-0.1,-0.2,-0.3,-0.4,-0.5,-0.6],
]

sham_sf5 = [
 [0,-1.5,-3.4,-2.8,-1.6,-0.8,-0.4,-0.2,-0.1,-0.1,0,0,-0.1,0],
 [0,-1.0,-2.3,-1.5,-0.7,-0.3,-0.2,-0.1,0,0,0,0,0,0],
 [0,-0.8,-1.8,-1.0,-0.5,-0.3,-0.1,-0.1,0,0,0,0,0,0],
 [0,-0.6,-1.3,-0.8,-0.4,-0.2,-0.1,-0.1,0,0,0,0,0,0],
 [0,-0.4,-0.9,-0.6,-0.3,-0.2,-0.1,0,0.1,-0.1,0,0,0,0],
 [0,-0.2,-0.6,-0.4,-0.2,-0.1,0,0,0,0,0,0,0,0],
 [0,-0.1,-0.2,-0.1,0,0,0.1,0,0,0,0,0,0,0],
 [0,0.1,0.3,0.3,0.2,0.2,0.1,0.1,0.1,0.1,0.1,0.1,0.1,0.0],
 [0,0.3,0.8,0.7,0.4,0.3,0.3,0.3,0.2,0.3,0.2,0.2,0.2,0.1],
 [0,0.7,1.6,1.2,0.8,0.6,0.5,0.4,0.5,0.3,0.4,0.4,0.3,0.3],
 [0,0.9,2.2,1.6,1.0,0.8,0.6,0.5,0.6,0.4,0.6,0.5,0.5,0.4],
 [0,0.6,1.6,1.5,1.2,0.9,0.7,0.6,0.5,0.5,0.4,0.5,0.4,0.3],
 [0,1.2,3.3,2.8,1.8,1.1,0.7,0.5,0.4,0.4,0.3,0.2,0.3,0.2],
 [0,2.5,5.9,4.8,3.0,1.8,0.8,0.3,0.1,0.0,-0.2,-0.3,-0.4,-0.5],
]
pci_sf5 = [
 [0,-2.0,-5.2,-4.6,-3.2,-1.9,-1.0,-0.5,-0.2,-0.1,0,0,0,0],
 [0,-1.2,-3.0,-2.4,-1.3,-0.6,-0.3,-0.1,0,0,0,0,0,0],
 [0,-0.8,-2.0,-1.4,-0.8,-0.4,-0.2,-0.1,0,0,0,0,0,0],
 [0,-0.6,-1.5,-1.1,-0.6,-0.3,-0.1,0,0,0,0,0,0,0],
 [0,-0.4,-1.0,-0.8,-0.4,-0.2,-0.1,0,0,0,0,0,0,0],
 [0,-0.3,-0.6,-0.5,-0.3,-0.1,0,0,0,0,0,0,0,0],
 [0,-0.1,-0.3,-0.2,-0.1,0,0,0,0,0,0,0,0,0],
 [0,0.1,0.2,0.2,0.1,0.1,0.1,0.1,0.1,0.1,0.1,0,0,0],
 [0,0.2,0.5,0.5,0.3,0.3,0.2,0.2,0.2,0.2,0.2,0.1,0.1,0.1],
 [0,0.4,1.0,0.9,0.6,0.5,0.4,0.4,0.3,0.3,0.3,0.3,0.3,0.2],
 [0,0.6,1.6,1.3,1.0,0.7,0.6,0.5,0.5,0.4,0.4,0.4,0.3,0.3],
 [0,0.4,1.4,1.6,1.4,1.2,1.0,0.8,0.6,0.5,0.5,0.4,0.4,0.3],
 [0,1.0,2.8,2.6,2.0,1.4,1.0,0.8,0.6,0.5,0.5,0.4,0.4,0.3],
 [0,2.0,5.3,4.6,3.2,2.0,1.1,0.5,0.2,0.0,-0.2,-0.3,-0.4,-0.5],
]

sham_sf6 = [
 [0,-1.8,-3.6,-2.3,-1.0,-0.4,-0.2,-0.1,-0.1,0,-0.1,0],
 [0,-1.1,-2.3,-1.4,-0.6,-0.3,-0.1,-0.1,0,0,0,0],
 [0,-1.0,-2.0,-1.0,-0.5,-0.2,-0.1,-0.1,0,0,0,0],
 [0,-0.7,-1.4,-0.9,-0.4,-0.2,-0.1,0,0,0,0,0],
 [0,-0.5,-1.0,-0.7,-0.3,-0.1,-0.1,0,0,0,0,0],
 [0,-0.3,-0.6,-0.4,-0.2,-0.1,0,0,0,0,0,0],
 [0,-0.1,-0.2,-0.1,0.0,0.1,0.0,0.0,0.0,0.1,0.0,0.0],
 [0,0.2,0.3,0.3,0.2,0.2,0.1,0.1,0.1,0.2,0.1,0.1],
 [0,0.5,0.9,0.7,0.4,0.3,0.3,0.3,0.3,0.2,0.3,0.2],
 [0,1.0,2.0,1.2,0.8,0.5,0.5,0.5,0.4,0.5,0.4,0.4],
 [0,1.3,2.6,1.4,1.0,0.7,0.6,0.6,0.5,0.6,0.6,0.5],
 [0,0.8,1.5,1.5,1.0,0.8,0.7,0.6,0.5,0.6,0.5,0.4],
 [0,1.9,3.9,2.6,1.2,0.8,0.6,0.5,0.5,0.4,0.3,0.2],
 [0,3.3,6.6,3.4,1.6,0.6,0.1,0.0,-0.2,-0.3,-0.6,-0.5],
]
pci_sf6 = [
 [0,-2.8,-5.5,-3.8,-2.0,-0.9,-0.4,-0.2,-0.1,0,0,0],
 [0,-1.6,-3.2,-2.0,-0.9,-0.4,-0.2,-0.1,0,0,0,0],
 [0,-1.1,-2.2,-1.3,-0.6,-0.3,-0.1,0,0,0,0,0],
 [0,-0.8,-1.6,-1.0,-0.5,-0.2,-0.1,0,0,0,0,0],
 [0,-0.5,-1.1,-0.7,-0.3,-0.1,-0.1,0,0,0,0,0],
 [0,-0.3,-0.7,-0.5,-0.2,-0.1,0,0,0,0,0,0],
 [0,-0.1,-0.3,-0.2,-0.1,0,0,0,0,0,0,0],
 [0,0.1,0.2,0.2,0.1,0.1,0.1,0.1,0.1,0.1,0.1,0.1],
 [0,0.3,0.7,0.5,0.4,0.3,0.2,0.2,0.2,0.2,0.2,0.1],
 [0,0.7,1.4,1.0,0.7,0.5,0.4,0.4,0.3,0.3,0.3,0.3],
 [0,1.0,2.2,1.5,1.0,0.7,0.6,0.5,0.5,0.4,0.4,0.4],
 [0,0.8,1.8,1.8,1.4,1.1,0.9,0.7,0.6,0.5,0.5,0.4],
 [0,1.6,3.4,2.6,1.6,1.0,0.7,0.6,0.5,0.5,0.4,0.4],
 [0,3.2,6.0,3.8,2.0,0.8,0.2,-0.1,-0.3,-0.5,-0.6,-0.6],
]

sham_sf7 = [
 [0,-3.8,-3.5,-1.5,-0.5,-0.2,-0.2,-0.1,-0.1,-0.1],
 [0,-1.8,-1.7,-0.9,-0.4,-0.2,-0.1,0,-0.1,0],
 [0,-2.3,-1.4,-0.7,-0.3,-0.2,-0.1,-0.1,0,0],
 [0,-1.3,-1.0,-0.5,-0.3,-0.1,-0.1,0,0,0],
 [0,-0.9,-0.8,-0.4,-0.2,-0.1,0,0,0,-0.1],
 [0,-0.5,-0.5,-0.3,-0.1,0,0,0,-0.1,0],
 [0,-0.2,-0.1,0,0.1,0.1,0,0,0,0],
 [0,0.4,0.3,0.3,0.2,0.2,0.1,0.1,0.1,0.1],
 [0,0.9,0.8,0.5,0.3,0.3,0.3,0.3,0.2,0.2],
 [0,1.8,1.3,0.9,0.6,0.5,0.5,0.5,0.4,0.4],
 [0,2.5,1.8,1.2,0.8,0.6,0.6,0.6,0.7,0.6],
 [0,1.5,2.0,1.3,0.9,0.7,0.6,0.5,0.5,0.4],
 [0,3.5,3.9,1.7,0.9,0.6,0.5,0.4,0.4,0.3],
 [0,5.6,6.3,2.2,0.6,0.0,-0.4,-0.5,-0.7,-0.8],
]
pci_sf7 = [
 [0,-4.2,-5.6,-3.0,-1.0,-0.4,-0.1,0,0,0],
 [0,-2.3,-3.3,-1.6,-0.6,-0.3,-0.1,0,0,0],
 [0,-1.6,-2.2,-1.2,-0.5,-0.2,-0.1,0,0,0],
 [0,-1.2,-1.6,-0.9,-0.4,-0.2,-0.1,0,0,0],
 [0,-0.8,-1.1,-0.6,-0.3,-0.2,-0.1,0,0,0],
 [0,-0.5,-0.7,-0.4,-0.2,-0.1,0,0,0,0],
 [0,-0.2,-0.3,-0.2,-0.1,0,0,0,0,0],
 [0,0.2,0.3,0.2,0.1,0.1,0.1,0.1,0.1,0.1],
 [0,0.6,0.7,0.5,0.3,0.3,0.2,0.2,0.2,0.2],
 [0,1.2,1.3,0.9,0.6,0.5,0.4,0.4,0.3,0.3],
 [0,1.6,2.0,1.2,0.8,0.6,0.5,0.5,0.4,0.4],
 [0,1.0,1.9,1.6,1.2,1.0,0.8,0.6,0.5,0.4],
 [0,2.5,3.4,2.2,1.3,0.8,0.6,0.5,0.5,0.4],
 [0,4.5,6.2,3.0,1.2,0.4,0.0,-0.2,-0.4,-0.5],
]

sham_sf8 = [
 [0,-3.9,-3.6,-1.6,-0.5,-0.2,-0.2,-0.1,-0.1],
 [0,-2.0,-1.8,-1.0,-0.4,-0.2,-0.1,0.0,-0.1],
 [0,-2.6,-1.4,-0.7,-0.3,-0.2,-0.1,-0.1,0.0],
 [0,-1.4,-1.1,-0.6,-0.3,-0.1,-0.1,0.0,0.0],
 [0,-1.0,-0.8,-0.5,-0.2,-0.1,0.0,0.0,-0.1],
 [0,-0.6,-0.5,-0.3,-0.1,0.0,0.0,-0.1,0.0],
 [0,-0.2,-0.1,0.0,0.1,0.1,0.0,0.0,0.0],
 [0,0.4,0.4,0.3,0.2,0.2,0.2,0.1,0.1],
 [0,1.0,0.8,0.5,0.3,0.3,0.4,0.3,0.2],
 [0,2.2,1.3,0.9,0.6,0.5,0.5,0.5,0.4],
 [0,2.8,1.9,1.2,0.8,0.6,0.6,0.7,0.6],
 [0,1.5,2.0,1.4,0.9,0.7,0.6,0.5,0.4],
 [0,3.8,3.9,1.8,1.0,0.6,0.5,0.4,0.3],
 [0,7.2,5.9,2.0,0.5,-0.2,-0.5,-0.7,-0.8],
]
pci_sf8 = [
 [0,-6.0,-6.4,-3.0,-0.8,-0.3,-0.1,0,0],
 [0,-3.0,-3.2,-1.5,-0.6,-0.3,-0.1,0,0],
 [0,-2.4,-1.8,-1.0,-0.5,-0.2,-0.1,0,0],
 [0,-1.6,-1.4,-0.8,-0.4,-0.2,-0.1,0,0],
 [0,-1.1,-1.0,-0.6,-0.3,-0.2,-0.1,0,0],
 [0,-0.7,-0.6,-0.4,-0.2,-0.1,0,0,0],
 [0,-0.3,-0.3,-0.2,-0.1,0,0,0,0],
 [0,0.3,0.2,0.2,0.1,0.1,0.1,0.1,0.1],
 [0,0.8,0.6,0.4,0.3,0.3,0.2,0.2,0.2],
 [0,1.5,1.1,0.8,0.6,0.5,0.4,0.4,0.3],
 [0,2.0,1.5,1.0,0.7,0.6,0.5,0.5,0.4],
 [0,1.2,1.8,1.5,1.2,1.0,0.8,0.6,0.5],
 [0,3.0,3.2,2.0,1.2,0.8,0.6,0.5,0.4],
 [0,5.5,5.8,2.5,1.0,0.3,0.0,-0.3,-0.5],
]

panel_data = {
    ("Sham", 1): sham_sf1, ("PCI", 1): pci_sf1, ("Sham", 2): sham_sf2, ("PCI", 2): pci_sf2,
    ("Sham", 3): sham_sf3, ("PCI", 3): pci_sf3, ("Sham", 4): sham_sf4, ("PCI", 4): pci_sf4,
    ("Sham", 5): sham_sf5, ("PCI", 5): pci_sf5, ("Sham", 6): sham_sf6, ("PCI", 6): pci_sf6,
    ("Sham", 7): sham_sf7, ("PCI", 7): pci_sf7, ("Sham", 8): sham_sf8, ("PCI", 8): pci_sf8,
}

# ---------------- layout ----------------
W, H = 1196, 416
fig = plt.figure(figsize=(W / 100, H / 100), dpi=100)
fig.patch.set_facecolor("white")

col_px = [(97, 197), (235, 340), (377, 482), (524, 626), (666, 770), (800, 904), (940, 1045), (1082, 1188)]
row_px = [(126, 229), (264, 384)]


def rect(x0, x1, y0, y1):
    return [x0 / W, 1 - y1 / H, (x1 - x0) / W, (y1 - y0) / H]


palette = dict(zip(clusters, cluster_colors))

axes = {}
for j, sf in enumerate(smoothing_factors):
    for i, cond in enumerate(conditions):
        x0, x1 = col_px[j]
        y0, y1 = row_px[i]
        share = axes[("Sham", sf)] if cond == "PCI" else None
        ax = fig.add_axes(rect(x0, x1, y0, y1), sharey=share)
        axes[(cond, sf)] = ax
        rows = []
        for c, vals in zip(clusters, panel_data[(cond, sf)]):
            for k, v in enumerate(vals):
                rows.append((frame_minutes * sf * (k + 1), v, c))
        df = pd.DataFrame(rows, columns=["time", "value", "cluster"])
        sns.lineplot(data=df, x="time", y="value", hue="cluster", hue_order=clusters,
                     palette=palette, estimator=None, sort=False, legend=False,
                     linewidth=1.25, ax=ax)
        ax.margins(x=0.05, y=0.05)
        ax.set_xticks(x_breaks)
        ax.set_yticks(y_breaks[sf])
        if sf in (4, 5):
            ax.yaxis.set_major_formatter(FormatStrFormatter("%.1f"))
        else:
            ax.yaxis.set_major_formatter(FormatStrFormatter("%g"))
        for s in ("top", "right"):
            ax.spines[s].set_visible(False)
        for s in ("left", "bottom"):
            ax.spines[s].set_linewidth(0.8)
            ax.spines[s].set_color("black")
        ax.tick_params(axis="both", length=2.5, width=0.6, color="#333333",
                       labelsize=6.3, labelcolor="#4d4d4d", pad=1.5)
        ax.set_facecolor("white")
        ax.set_xlabel("time (min)" if cond == "PCI" else "", fontsize=7.5, labelpad=1, color="black")
        ax.set_ylabel("time derivative (a.u.)" if sf == 1 else "", fontsize=6.5, labelpad=2, color="black")
        if cond == "Sham":
            ax.set_title(f"Smoothing factor {sf}", fontsize=8.3, pad=5, color="black")

for sf in smoothing_factors:
    axes[("Sham", sf)].autoscale(axis="y")

# row labels
fig.text(31 / W, 1 - 172 / H, "Sham", rotation=90, ha="center", va="center", color="black",
         fontsize=21, fontweight="bold", family=["Lato", "DejaVu Sans"])
fig.text(31 / W, 1 - 324 / H, "PCI", rotation=90, ha="center", va="center", color="black",
         fontsize=21, fontweight="bold", family=["Lato", "DejaVu Sans"])

# title  k = 14
fig.text(609 / W, 1 - 25 / H, "k", ha="right", va="center", fontsize=27, fontweight="bold",
         fontstyle="italic", color="black", family=["Lato", "DejaVu Sans"])
fig.text(617 / W, 1 - 25 / H, "= 14", ha="left", va="center", fontsize=27, fontweight="bold",
         color="black", family=["Lato", "DejaVu Sans"])

# legend (cluster colour keys)
fig.text(556 / W, 1 - 72 / H, "Cluster", ha="right", va="center", fontsize=6.5, color="#222222")
col_x = [562, 597, 632, 664, 700]
row_y = [53, 72, 89]
for idx, c in enumerate(clusters):
    cj, ri = divmod(idx, 3)
    x = col_x[cj]
    y = row_y[ri]
    fig.add_artist(Rectangle((x / W, 1 - (y + 3) / H), 18 / W, 6 / H, transform=fig.transFigure,
                             facecolor=palette[c], edgecolor="none"))
    fig.text((x + 24) / W, 1 - y / H, str(c), ha="left", va="center", fontsize=6.3, color="#333333")

fig.savefig("out.png", dpi=100, facecolor="white")
